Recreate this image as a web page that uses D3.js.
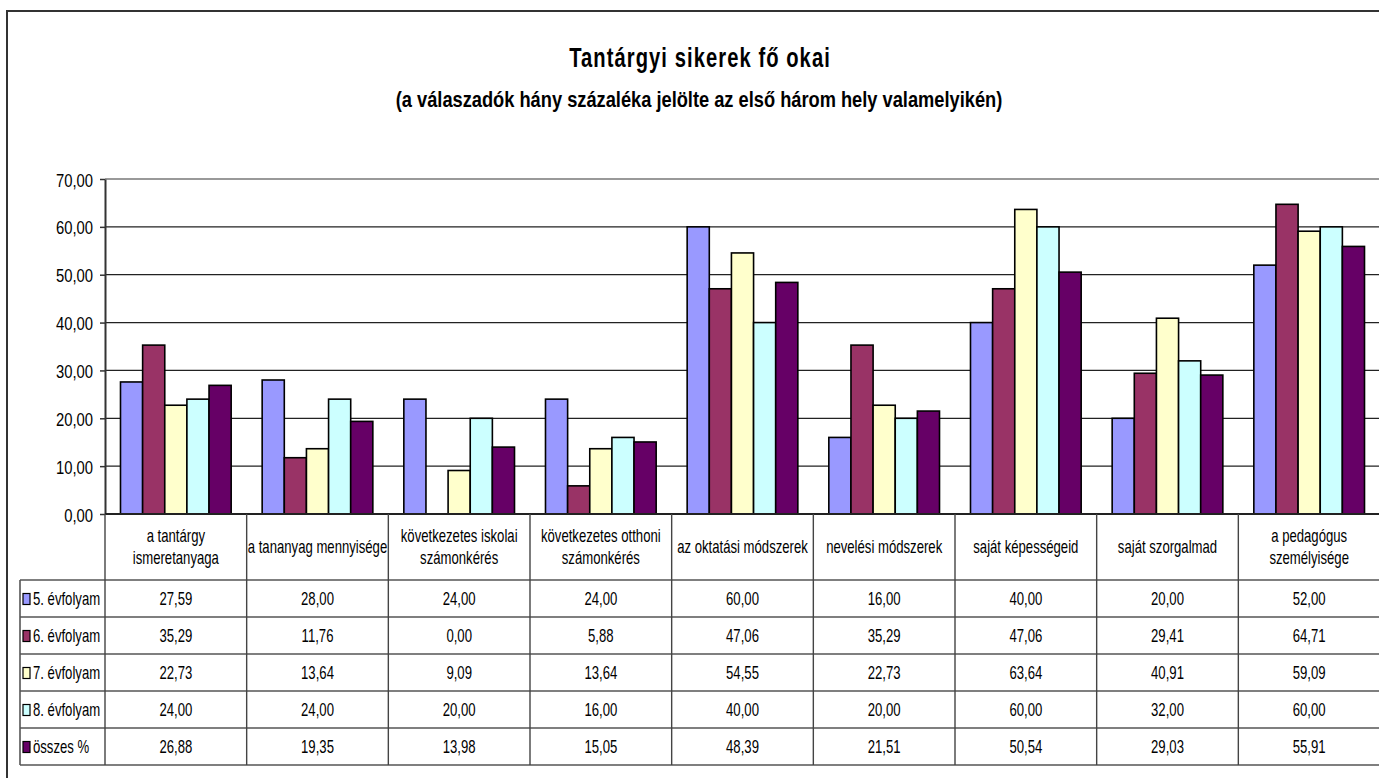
<!DOCTYPE html>
<html>
<head>
<meta charset="utf-8">
<script src="https://cdn.jsdelivr.net/npm/d3@7"></script>
<style>
  body { margin: 0; background: #fff; }
  svg text { font-family: "Liberation Sans", Arial, sans-serif; fill: #000; }
</style>
</head>
<body>
<div id="chart"></div>
<script>
// categories (header labels of the data table, \n = line break)
const categories = [
  "a tantárgy\nismeretanyaga",
  "a tananyag mennyisége",
  "következetes iskolai\nszámonkérés",
  "következetes otthoni\nszámonkérés",
  "az oktatási módszerek",
  "nevelési módszerek",
  "saját képességeid",
  "saját szorgalmad",
  "a pedagógus\nszemélyisége"
];

const seriesNames = ["5. évfolyam", "6. évfolyam", "7. évfolyam", "8. évfolyam", "összes %"];
const seriesColors = ["#9999ff", "#993366", "#ffffcc", "#ccffff", "#660066"];

const grade5 = [27.59, 28.00, 24.00, 24.00, 60.00, 16.00, 40.00, 20.00, 52.00];
const grade6 = [35.29, 11.76, 0.00, 5.88, 47.06, 35.29, 47.06, 29.41, 64.71];
const grade7 = [22.73, 13.64, 9.09, 13.64, 54.55, 22.73, 63.64, 40.91, 59.09];
const grade8 = [24.00, 24.00, 20.00, 16.00, 40.00, 20.00, 60.00, 32.00, 60.00];
const total  = [26.88, 19.35, 13.98, 15.05, 48.39, 21.51, 50.54, 29.03, 55.91];

const yTicks = [0, 10, 20, 30, 40, 50, 60, 70];

const seriesValues = [grade5, grade6, grade7, grade8, total];

const W = 1379, H = 778;
const plot = { left: 105, right: 1380, top: 179, bottom: 514 };
const table = { left: 20, headerBottom: 580, rowH: 37 };
const NARROW = 0.73; // no Arial Narrow installed, so squeeze the text horizontally

const hu = d3.formatLocale({ decimal: ",", thousands: " ", grouping: [3], currency: ["", " Ft"] });
const fmt = hu.format(".2f");

// place a text at (x,y) squeezed horizontally
function narrowText(parent, x, y, str, size, sx, anchor) {
  return parent.append("text")
    .attr("transform", `translate(${x},${y}) scale(${sx},1)`)
    .attr("text-anchor", anchor || "middle")
    .style("font-size", size + "px")
    .text(str);
}

const svg = d3.select("#chart").append("svg")
  .attr("width", W)
  .attr("height", H);

// outer chart border
svg.append("path")
  .attr("d", `M7,${H} V11 H${W}`)
  .attr("fill", "none")
  .attr("stroke", "#333")
  .attr("stroke-width", 2);

// titles
narrowText(svg, 700, 67, "Tantárgyi sikerek fő okai", 28, 0.72)
  .style("font-weight", "bold")
  .style("letter-spacing", "1.5px");
narrowText(svg, 699, 107, "(a válaszadók hány százaléka jelölte az első három hely valamelyikén)", 22, 0.83)
  .style("font-weight", "bold");

const x0 = d3.scaleBand().domain(categories).range([plot.left, plot.right]).paddingInner(0);
const x1 = d3.scaleBand().domain(seriesNames).range([0, x0.bandwidth()]).paddingInner(0).paddingOuter(0.7);
const y = d3.scaleLinear().domain([0, 70]).range([plot.bottom, plot.top]);

// gridlines
svg.append("g")
  .selectAll("line")
  .data(yTicks.filter(d => d > 0))
  .join("line")
  .attr("x1", plot.left).attr("x2", W)
  .attr("y1", d => y(d)).attr("y2", d => y(d))
  .attr("stroke", d => d === 70 ? "#999" : "#222")
  .attr("stroke-width", d => d === 70 ? 2 : 1.2);

// y axis
const yAxis = svg.append("g")
  .attr("transform", `translate(${plot.left},0)`)
  .call(d3.axisLeft(y).tickValues(yTicks).tickFormat(fmt).tickSize(5).tickSizeOuter(0));
yAxis.select(".domain").attr("stroke", "#333").attr("stroke-width", 2);
yAxis.selectAll(".tick line").attr("stroke", "#333").attr("stroke-width", 1.5);
yAxis.selectAll(".tick text")
  .attr("x", null).attr("dy", null)
  .attr("transform", "translate(-12,7) scale(0.78,1)")
  .style("font-size", "19px")
  .style("font-family", "\"Liberation Sans\", Arial, sans-serif");

// bars
const groups = svg.append("g")
  .selectAll("g")
  .data(categories)
  .join("g")
  .attr("transform", d => `translate(${x0(d)},0)`);

groups.selectAll("rect")
  .data((c, i) => seriesNames.map((s, j) => ({ s, v: seriesValues[j][i], color: seriesColors[j] })))
  .join("rect")
  .attr("x", d => x1(d.s))
  .attr("y", d => y(d.v))
  .attr("width", x1.bandwidth())
  .attr("height", d => y(0) - y(d.v))
  .attr("fill", d => d.color)
  .attr("stroke", "#000")
  .attr("stroke-width", 1.6);

// data table
const tableG = svg.append("g");
const rowTop = i => table.headerBottom + i * table.rowH;
const tableBottom = rowTop(seriesNames.length);

// horizontal lines
tableG.append("line")
  .attr("x1", plot.left).attr("x2", W)
  .attr("y1", plot.bottom).attr("y2", plot.bottom)
  .attr("stroke", "#222").attr("stroke-width", 2);
tableG.selectAll(".hline")
  .data(d3.range(seriesNames.length + 1))
  .join("line")
  .attr("class", "hline")
  .attr("x1", table.left).attr("x2", W)
  .attr("y1", i => rowTop(i)).attr("y2", i => rowTop(i))
  .attr("stroke", "#555").attr("stroke-width", 1.6);

// vertical lines
tableG.selectAll(".vline")
  .data(categories)
  .join("line")
  .attr("class", "vline")
  .attr("x1", d => x0(d)).attr("x2", d => x0(d))
  .attr("y1", plot.bottom).attr("y2", tableBottom)
  .attr("stroke", "#444").attr("stroke-width", 1.4);
tableG.append("line")
  .attr("x1", table.left).attr("x2", table.left)
  .attr("y1", table.headerBottom).attr("y2", tableBottom)
  .attr("stroke", "#555").attr("stroke-width", 1.6);

// header labels
categories.forEach(d => {
  const lines = d.split("\n");
  const cx = x0(d) + x0.bandwidth() / 2;
  const midY = (plot.bottom + table.headerBottom) / 2;
  lines.forEach((ln, k) => {
    narrowText(tableG, cx, midY + 6 + (k - (lines.length - 1) / 2) * 22, ln, 18, NARROW);
  });
});

// row labels with legend keys
seriesNames.forEach((s, j) => {
  const cy = rowTop(j) + table.rowH / 2;
  tableG.append("rect")
    .attr("x", 23).attr("y", cy - 5)
    .attr("width", 7).attr("height", 11)
    .attr("fill", seriesColors[j])
    .attr("stroke", "#000").attr("stroke-width", 1.2);
  narrowText(tableG, 33, cy + 6, s, 18, NARROW, "start");
  categories.forEach((c, i) => {
    narrowText(tableG, x0(c) + x0.bandwidth() / 2, cy + 6, fmt(seriesValues[j][i]), 18, NARROW);
  });
});
</script>
</body>
</html>
